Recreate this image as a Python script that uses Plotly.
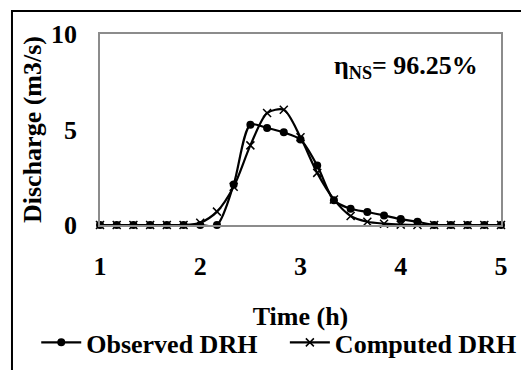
import plotly.graph_objects as go

time_h = [1.0, 1.1667, 1.3333, 1.5, 1.6667, 1.8333, 2.0, 2.1667, 2.3333, 2.5,
          2.6667, 2.8333, 3.0, 3.1667, 3.3333, 3.5, 3.6667, 3.8333, 4.0, 4.1667,
          4.3333, 4.5, 4.6667, 4.8333, 5.0]
observed = [0, 0, 0, 0, 0, 0, 0, 0, 2.12, 5.25,
            5.08, 4.85, 4.47, 3.11, 1.29, 0.85, 0.68, 0.50, 0.31, 0.17,
            0, 0, 0, 0, 0]
computed = [0, 0, 0, 0, 0, 0, 0.12, 0.70, 2.0, 4.17,
            5.86, 6.03, 4.59, 2.73, 1.34, 0.47, 0.17, 0.07, 0.02, 0,
            0, 0, 0, 0, 0]
y_ticks = [0, 5, 10]
x_ticks = [1, 2, 3, 4, 5]

FONT = "Liberation Serif, Times New Roman, serif"
FS = 26

fig = go.Figure()
fig.add_trace(go.Scatter(
    x=time_h, y=observed, name="Observed DRH", mode="lines+markers",
    line=dict(color="black", width=2.2, shape="spline", smoothing=0.8),
    marker=dict(symbol="circle", size=8, color="black"),
    cliponaxis=False, legend="legend",
))
fig.add_trace(go.Scatter(
    x=time_h, y=computed, name="Computed DRH", mode="lines+markers",
    line=dict(color="black", width=2.2, shape="spline", smoothing=0.8),
    marker=dict(symbol="x-thin", size=8, color="black",
                line=dict(color="black", width=1.5)),
    cliponaxis=False, legend="legend2",
))

legend_common = dict(orientation="h", yanchor="middle", y=-0.615,
                     font=dict(family=FONT, size=FS, color="black", weight="bold"),
                     bgcolor="rgba(0,0,0,0)", itemwidth=40, tracegroupgap=0,
                     xanchor="left")

fig.update_layout(
    width=521, height=370,
    margin=dict(l=100, r=20, t=34, b=145, autoexpand=False),
    paper_bgcolor="white", plot_bgcolor="white",
    font=dict(family=FONT, size=FS, color="black", weight="bold"),
    showlegend=True,
    legend=dict(legend_common, x=-0.159),
    legend2=dict(legend_common, x=0.461),
    xaxis=dict(range=[1, 5], tickvals=x_ticks, ticktext=[str(v) for v in x_ticks],
               showgrid=False, zeroline=False, showline=True, mirror=True,
               linecolor="#8c8c8c", linewidth=1.5, ticks="", ticklabelstandoff=17,
               automargin=False,
               tickfont=dict(family=FONT, size=FS, weight="bold"),
               title=dict(text="Time (h)", standoff=27,
                          font=dict(family=FONT, size=FS, weight="bold"))),
    yaxis=dict(range=[0, 10], tickvals=y_ticks, ticktext=[str(v) for v in y_ticks],
               showgrid=False, zeroline=False, showline=True, mirror=True,
               linecolor="#8c8c8c", linewidth=1.5, ticks="", ticklabelstandoff=16,
               automargin=False,
               tickfont=dict(family=FONT, size=FS, weight="bold"),
               title=dict(text="Discharge (m3/s)", standoff=2,
                          font=dict(family=FONT, size=FS, weight="bold"))),
    annotations=[dict(
        xref="paper", yref="paper", x=0.948, y=0.827, xanchor="right", yanchor="middle",
        text="η<sub>NS</sub>= 96.25%", showarrow=False,
        font=dict(family=FONT, size=FS, color="black", weight="bold"),
    )],
    shapes=[dict(type="rect", xref="paper", yref="paper",
                 x0=-0.2195, x1=1.08, y0=-0.85, y1=1.1204,
                 line=dict(color="black", width=2), fillcolor="rgba(0,0,0,0)",
                 layer="below")],
)

fig.write_html("out.html", config={"displayModeBar": False},
               post_script="document.body.style.margin='0px';")
